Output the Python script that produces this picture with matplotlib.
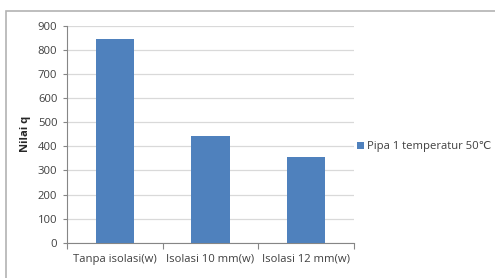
import matplotlib
matplotlib.use("Agg")
import matplotlib.pyplot as plt
from matplotlib.patches import Rectangle, Patch

categories = ["Tanpa isolasi(w)", "Isolasi 10 mm(w)", "Isolasi 12 mm(w)"]
values = [845, 443, 357]
series_name = "Pipa 1 temperatur 50\u2103"
yticks = [0, 100, 200, 300, 400, 500, 600, 700, 800, 900]

W, H = 495, 278
plt.rcParams['font.family'] = ['Open Sans', 'DejaVu Sans']
fig = plt.figure(figsize=(W / 100, H / 100), dpi=100)
fig.patch.set_facecolor("white")

# outer chart border
fig.add_artist(Rectangle((6 / W, -0.05), 1.2, 1 - 11 / H + 0.05, transform=fig.transFigure,
                         fill=False, edgecolor="#b3b3b3", linewidth=1.2))

ax = fig.add_axes([67 / W, (H - 242.7) / H, (354 - 67) / W, (242.7 - 26) / H])
bar_color = "#4f81bd"
x = list(range(len(categories)))
ax.bar(x, values, width=0.4, color=bar_color, zorder=3, label=series_name)

fs = 8.1
ax.set_ylim(0, 900)
ax.set_xlim(-0.5, len(categories) - 0.5)
ax.set_yticks(yticks)
ax.set_yticklabels([str(v) for v in yticks], fontsize=fs, color="#404040")
ax.yaxis.grid(True, color="#d9d9d9", linewidth=0.9, zorder=0)
ax.set_axisbelow(True)

ax.set_xticks([i - 0.5 for i in range(len(categories) + 1)])
ax.set_xticklabels([])
ax.set_xticks(x, minor=True)
ax.set_xticklabels(categories, minor=True, fontsize=fs, color="#404040")
ax.tick_params(axis="x", which="minor", length=0, pad=8)
ax.tick_params(axis="x", which="major", length=4, color="#868686", direction="out")
ax.tick_params(axis="y", length=3, color="#868686", direction="out", pad=4)

for s in ["top", "right"]:
    ax.spines[s].set_visible(False)
for s in ["left", "bottom"]:
    ax.spines[s].set_color("#868686")
    ax.spines[s].set_linewidth(0.8)

ax.set_ylabel("Nilai q", fontsize=fs, fontweight="bold", color="#262626", labelpad=5)

handles = [Patch(facecolor=bar_color, label=series_name)]
fig.legend(handles=handles, loc="center left", bbox_to_anchor=(357 / W, (H - 147) / H),
           frameon=False, fontsize=fs, handlelength=0.6, handleheight=0.6,
           handletextpad=0.3, borderaxespad=0, borderpad=0, labelcolor="#404040")

fig.savefig("out.png", dpi=100, facecolor="white")
